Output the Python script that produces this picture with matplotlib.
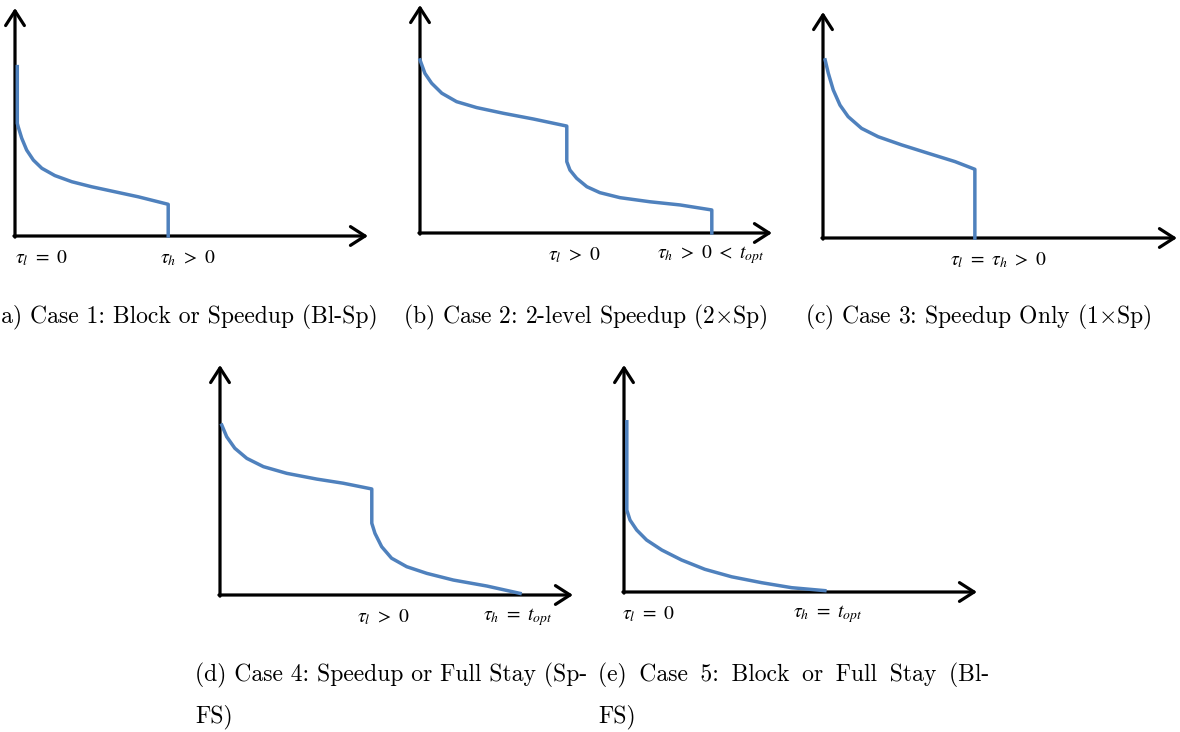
import matplotlib
matplotlib.use("Agg")
import matplotlib.pyplot as plt

W, H = 1180, 732
blue = '#4f81bd'

# curves of each case, in % of the drawn axis length (x) / height (y)
a_x = [0.65, 0.65, 0.9, 1.9, 3.3, 5.2, 7.6, 11.3, 16.1, 21.7, 28.3, 34.9, 43.4, 43.4]
a_y = [74.3, 49.4, 47.9, 42.9, 37.7, 33.3, 29.7, 26.5, 23.8, 21.6, 19.4, 17.2, 13.9, 0]

b_x = [0, 1.4, 3.3, 6.2, 10.4, 16.1, 23.7, 32.2, 41.7, 41.7, 42.6, 44.5,
       47.4, 51.1, 56.8, 65.3, 73.9, 82.9, 82.9]
b_y = [75.9, 70.0, 65.7, 61.3, 57.6, 55.0, 52.5, 50.0, 46.9, 31.3, 27.6, 24.0,
       20.3, 17.7, 15.5, 13.7, 12.3, 10.1, 0]

c_x = [0.6, 1.5, 2.9, 4.8, 7.1, 10.9, 15.6, 22.2, 29.7, 37.3, 42.9, 42.9]
c_y = [78.8, 72.9, 65.5, 58.8, 53.7, 48.5, 44.8, 41.2, 37.5, 33.8, 30.4, 0]

d_x = [0.5, 1.9, 4.2, 7.6, 12.3, 18.9, 27.4, 34.9, 43.0, 43.0, 43.9, 45.8,
       48.6, 52.9, 58.6, 66.1, 75.6, 85.0]
d_y = [73.9, 68.8, 63.8, 59.4, 55.8, 52.9, 50.4, 48.6, 46.1, 31.2, 26.8, 21.0,
       16.0, 12.3, 9.4, 6.5, 3.9, 0.7]

e_x = [0.8, 0.8, 1.7, 3.6, 6.4, 10.7, 16.3, 22.9, 30.5, 39.0, 47.5, 56.9]
e_y = [75.0, 36.1, 31.7, 27.3, 22.9, 18.5, 14.1, 10.0, 6.7, 4.1, 1.9, 0.6]

# labels under the x axis: (x position, text)
a_labels = [(0, r'$\tau_l\ =\ 0$'), (41.0, r'$\tau_h\ >\ 0$')]
b_labels = [(36.4, r'$\tau_l\ >\ 0$'), (67.3, r'$\tau_h\ >\ 0\ <\ t_{opt}$')]
c_labels = [(35.9, r'$\tau_l\ =\ \tau_h\ >\ 0$')]
d_labels = [(38.8, r'$\tau_l\ >\ 0$'), (74.5, r'$\tau_h\ =\ t_{opt}$')]
e_labels = [(-0.6, r'$\tau_l\ =\ 0$'), (47.9, r'$\tau_h\ =\ t_{opt}$')]

sp = ' \u2009'  # slightly stretched space for the justified caption (e)
captions = [
    (-8, 317, r'(a) Case 1: Block or Speedup (Bl-Sp)'),
    (403, 317, r'(b) Case 2: 2-level Speedup (2$\times$Sp)'),
    (805, 317, r'(c) Case 3: Speedup Only (1$\times$Sp)'),
    (195, 675, r'(d) Case 4: Speedup or Full Stay (Sp-'),
    (195, 717, r'FS)'),
    (598, 675, sp.join(['(e)', 'Case', '5:', 'Block', 'or', 'Full', 'Stay', '(Bl-'])),
    (598, 717, r'FS)'),
]

# panel frames in pixels: origin x, origin y, arrow tip x, arrow tip y
panels = [
    ((15, 236, 368, 8), a_x, a_y, a_labels),
    ((420, 233, 772, 5), b_x, b_y, b_labels),
    ((823, 238, 1177, 12), c_x, c_y, c_labels),
    ((220, 595, 573, 365), d_x, d_y, d_labels),
    ((624, 592, 977, 365), e_x, e_y, e_labels),
]

fig = plt.figure(figsize=(W / 100, H / 100), dpi=100)

for (ox, oy, tx, ty), xs, ys, labels in panels:
    ax = fig.add_axes([ox / W, 1 - oy / H, (tx - ox) / W, (oy - ty) / H])
    ax.set_xlim(0, 100)
    ax.set_ylim(0, 100)
    ax.axis('off')
    arrow = dict(arrowstyle='->,head_length=0.7,head_width=0.45', lw=2.3,
                 color='black', shrinkA=0, shrinkB=0, mutation_scale=15)
    ax.annotate('', xy=(100, 0), xytext=(-0.3, 0), arrowprops=arrow,
                annotation_clip=False)
    ax.annotate('', xy=(0, 100), xytext=(0, -0.5), arrowprops=arrow,
                annotation_clip=False)
    ax.plot(xs, ys, color=blue, lw=2.5, solid_joinstyle='round',
            clip_on=False, zorder=3)
    for x, s in labels:
        ax.annotate(s, xy=(x, 0), xytext=(0, -22), textcoords='offset pixels',
                    ha='left', va='center', fontsize=14,
                    math_fontfamily='stix', annotation_clip=False)

for x, y, s in captions:
    fig.text(x / W, 1 - y / H, s, ha='left', va='center', fontsize=17,
             family=['cmr10', 'DejaVu Serif'], math_fontfamily='cm')

fig.savefig('out.png', dpi=100)
